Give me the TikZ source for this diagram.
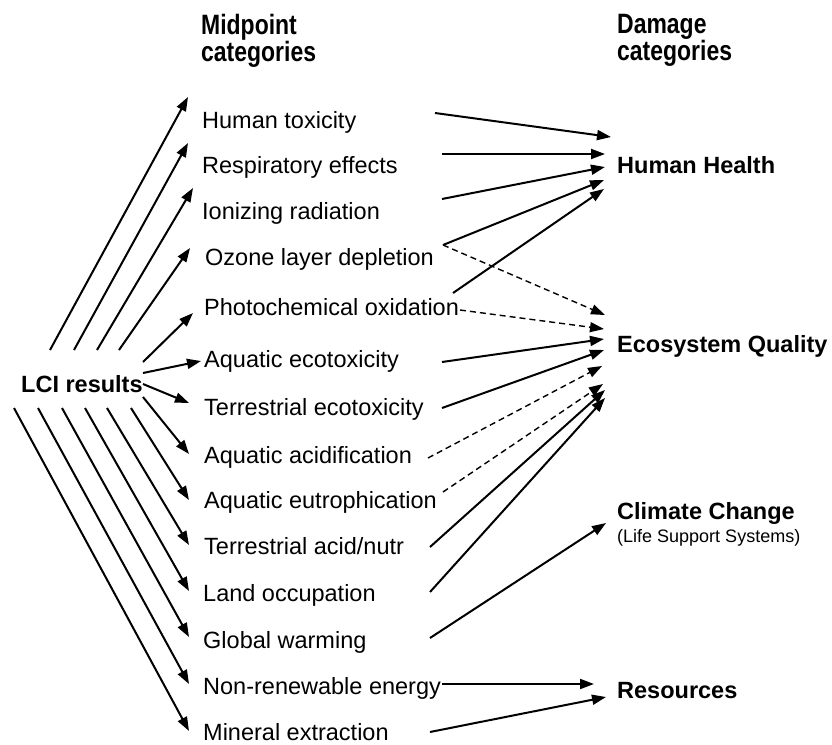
\documentclass[tikz,border=0pt]{standalone}
\usepackage{fontspec}
\setmainfont{Liberation Sans}
\newfontfamily\hdrfont[FakeStretch=0.82]{Liberation Sans Bold}
\usetikzlibrary{arrows.meta}
\begin{document}
\begin{tikzpicture}[x=1pt,y=-1pt,
  lbl/.style={anchor=base west, inner sep=0pt, font=\fontsize{23.5}{28}\selectfont},
  dmg/.style={anchor=base west, inner sep=0pt, font=\bfseries\fontsize{23.5}{28}\selectfont},
  small/.style={anchor=base west, inner sep=0pt, font=\fontsize{18}{20}\selectfont},
  hdr/.style={anchor=north west, inner sep=0pt, align=left, font=\hdrfont\fontsize{28}{27}\selectfont},
  conn/.style={line width=2pt, -{Triangle[length=14pt,width=10pt]}},
  dconn/.style={line width=1.4pt, dash pattern=on 6pt off 4pt, -{Triangle[length=14pt,width=10pt]}}]
\useasboundingbox (0,0) rectangle (832,744);
\fill[white] (0,0) rectangle (832,744);

% headers
\node[hdr] (hmid) at (201,14.5) {Midpoint\\categories};
\node[hdr] (hdam) at (617,14.5) {Damage\\categories};

% LCI
\node[dmg] (lci) at (21,392) {LCI results};

% midpoint labels
\node[lbl] (m1) at (202,128) {Human toxicity};
\node[lbl] (m2) at (202,173) {Respiratory effects};
\node[lbl] (m3) at (202,219) {Ionizing radiation};
\node[lbl] (m4) at (205,265) {Ozone layer depletion};
\node[lbl] (m5) at (204,315) {Photochemical oxidation};
\node[lbl] (m6) at (204,367) {Aquatic ecotoxicity};
\node[lbl] (m7) at (204,415) {Terrestrial ecotoxicity};
\node[lbl] (m8) at (204,463) {Aquatic acidification};
\node[lbl] (m9) at (204,508) {Aquatic eutrophication};
\node[lbl] (m10) at (204,554) {Terrestrial acid/nutr};
\node[lbl] (m11) at (203,601) {Land occupation};
\node[lbl] (m12) at (203,648) {Global warming};
\node[lbl] (m13) at (203,694) {Non-renewable energy};
\node[lbl] (m14) at (203,740) {Mineral extraction};

% damage labels
\node[dmg] (hh) at (617,173) {Human Health};
\node[dmg] (eq) at (617,352) {Ecosystem Quality};
\node[dmg] (cc) at (617,519) {Climate Change};
\node[small] (lss) at (617,542) {(Life Support Systems)};
\node[dmg] (res) at (617,698) {Resources};

% left connector coordinates
\coordinate (s1) at (50,350);   \coordinate (t1) at (188,97);
\coordinate (s2) at (74,350);   \coordinate (t2) at (188,143);
\coordinate (s3) at (97,350);   \coordinate (t3) at (193,188);
\coordinate (s4) at (119,350);  \coordinate (t4) at (190,248);
\coordinate (s5) at (143,362);  \coordinate (t5) at (193,313);
\coordinate (s6) at (143,373);  \coordinate (t6) at (201,361);
\coordinate (s7) at (143,384);  \coordinate (t7) at (189,403);
\coordinate (s8) at (143,397);  \coordinate (t8) at (189,454);
\coordinate (s9) at (131,408);  \coordinate (t9) at (189,500);
\coordinate (s10) at (107,408); \coordinate (t10) at (189,545);
\coordinate (s11) at (85,408);  \coordinate (t11) at (189,591);
\coordinate (s12) at (62,408);  \coordinate (t12) at (189,637);
\coordinate (s13) at (38,408);  \coordinate (t13) at (189,684);
\coordinate (s14) at (14,408);  \coordinate (t14) at (189,731);

\foreach \i in {1,...,14} \draw[conn] (s\i) -- (t\i);

% right connector coordinates
\coordinate (r1) at (435,113);  \coordinate (h1) at (611,137);
\coordinate (r2) at (442,154);  \coordinate (h2) at (605,154);
\coordinate (r3) at (442,199);  \coordinate (h3) at (605,167);
\coordinate (r4) at (443,245);  \coordinate (h4) at (604,180);
\coordinate (r5) at (453,293);  \coordinate (h5) at (604,189);
\coordinate (e4) at (605,315);
\coordinate (r5d) at (460,310); \coordinate (e5) at (604,329);
\coordinate (r6) at (442,362);  \coordinate (e6) at (604,339);
\coordinate (r7) at (442,408);  \coordinate (e7) at (604,350);
\coordinate (r8) at (428,458);  \coordinate (e8) at (602,366);
\coordinate (r9) at (443,492);  \coordinate (e9) at (603,384);
\coordinate (r10) at (430,547); \coordinate (e10) at (605,390);
\coordinate (r11) at (430,592); \coordinate (e11) at (605,398);
\coordinate (r12) at (430,638); \coordinate (c12) at (606,523);
\coordinate (r13) at (442,684); \coordinate (q13) at (594,684);
\coordinate (r14) at (430,732); \coordinate (q14) at (606,697);

\draw[conn] (r1) -- (h1);
\draw[conn] (r2) -- (h2);
\draw[conn] (r3) -- (h3);
\draw[conn] (r4) -- (h4);
\draw[conn] (r5) -- (h5);
\draw[dconn] (r4) -- (e4);
\draw[dconn] (r5d) -- (e5);
\draw[conn] (r6) -- (e6);
\draw[conn] (r7) -- (e7);
\draw[dconn] (r8) -- (e8);
\draw[dconn] (r9) -- (e9);
\draw[conn] (r10) -- (e10);
\draw[conn] (r11) -- (e11);
\draw[conn] (r12) -- (c12);
\draw[conn] (r13) -- (q13);
\draw[conn] (r14) -- (q14);
\end{tikzpicture}
\end{document}
